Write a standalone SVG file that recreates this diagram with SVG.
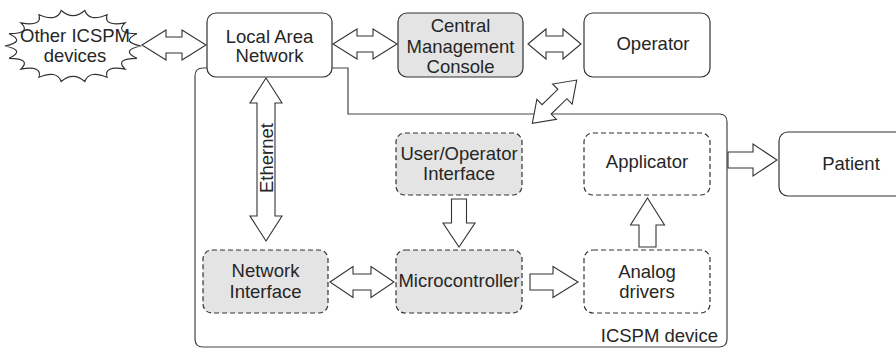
<svg xmlns="http://www.w3.org/2000/svg" width="896" height="349" viewBox="0 0 896 349">
  <style>
    .box { fill: #ffffff; stroke: #333333; stroke-width: 1.2; }
    .shaded { fill: #e4e4e4; }
    .dashed { stroke-dasharray: 5 3; }
    .arrow { fill: #ffffff; stroke: #333333; stroke-width: 1.1; stroke-linejoin: miter; }
    .outline { fill: #ffffff; stroke: #444444; stroke-width: 1.2; }
    text { font-family: "Liberation Sans", Arial, sans-serif; font-size: 18.5px; fill: #262626; text-anchor: middle; }
  </style>

  <rect width="896" height="349" fill="#ffffff"/>

  <!-- ICSPM device enclosure -->
  <g id="icspm-device">
    <path class="outline" d="M 203,68 H 348 V 114 H 719 Q 727,114 727,122 V 339 Q 727,347 719,347 H 203 Q 195,347 195,339 V 76 Q 195,68 203,68 Z"/>
    <text x="718" y="342" style="text-anchor:end">ICSPM device</text>
  </g>

  <!-- connectors -->
  <g id="connectors">
    <!-- other devices <-> LAN -->
    <polygon class="arrow" points="142,45 166,30 166,37 182,37 182,30 206,45 182,60 182,53 166,53 166,60"/>
    <!-- LAN <-> central console -->
    <polygon class="arrow" points="333,44 357,29 357,36 373,36 373,29 397,44 373,59 373,52 357,52 357,59"/>
    <!-- central console <-> operator -->
    <polygon class="arrow" points="528,44 546,29 546,36 563,36 563,29 581,44 563,59 563,52 546,52 546,59"/>
    <!-- operator <-> device -->
    <polygon class="arrow" transform="translate(554.5,101.7) rotate(-44.3)" points="-31,0 -11,-14 -11,-6.5 11,-6.5 11,-14 31,0 11,14 11,6.5 -11,6.5 -11,14"/>
    <!-- Ethernet: LAN <-> network interface -->
    <polygon class="arrow" points="266,78 282,103 275,103 275,216 282,216 266,241 250,216 257,216 257,103 250,103"/>
    <text transform="translate(272.5,158) rotate(-90)">Ethernet</text>
    <!-- network interface <-> microcontroller -->
    <polygon class="arrow" points="330,282 353,266.5 353,274 371,274 371,266.5 394,282 371,297.5 371,290 353,290 353,297.5"/>
    <!-- user interface -> microcontroller -->
    <polygon class="arrow" points="451.5,199 466.5,199 466.5,223 475,223 459,247 443,223 451.5,223"/>
    <!-- microcontroller -> analog drivers -->
    <polygon class="arrow" points="530,274 553,274 553,266.5 578,282 553,297.5 553,290 530,290"/>
    <!-- analog drivers -> applicator -->
    <polygon class="arrow" points="639,247 656,247 656,225 664.5,225 647.5,198 630.5,225 639,225"/>
    <!-- device -> patient -->
    <polygon class="arrow" points="728,152 753,152 753,144 777,160 753,176 753,168 728,168"/>
  </g>

  <g id="other-devices">
    <path class="box" d="M 141,46 Q 119.9,50.4 136.9,58.3 Q 114.2,58.6 125.1,69.1 Q 103.6,65.3 107,77.2 Q 89.3,69.7 84.8,81.5 Q 73,71.2 61.2,81.5 Q 56.7,69.7 39,77.2 Q 42.4,65.3 20.9,69.1 Q 31.8,58.6 9.1,58.3 Q 26.1,50.4 5,46 Q 26.1,41.6 9.1,33.7 Q 31.8,33.4 20.9,22.9 Q 42.4,26.7 39,14.8 Q 56.7,22.3 61.2,10.5 Q 73,20.8 84.8,10.5 Q 89.3,22.3 107,14.8 Q 103.6,26.7 125.1,22.9 Q 114.2,33.4 136.9,33.7 Q 119.9,41.6 141,46 Z"/>
    <text x="75" y="42">Other ICSPM</text>
    <text x="75" y="62">devices</text>
  </g>

  <g id="lan">
    <rect class="box" x="207" y="13" width="125" height="64" rx="9"/>
    <text x="269.5" y="43">Local Area</text>
    <text x="269.5" y="62">Network</text>
  </g>

  <g id="central-console">
    <rect class="box shaded" x="398" y="13" width="125" height="64" rx="9"/>
    <text x="460.5" y="32">Central</text>
    <text x="460.5" y="53">Management</text>
    <text x="460.5" y="73">Console</text>
  </g>

  <g id="operator">
    <rect class="box" x="584" y="13" width="126" height="64" rx="9"/>
    <text x="653" y="50">Operator</text>
  </g>

  <g id="user-interface">
    <rect class="box shaded dashed" x="396" y="133" width="126" height="62" rx="9"/>
    <text x="459" y="160">User/Operator</text>
    <text x="459" y="180">Interface</text>
  </g>

  <g id="network-interface">
    <rect class="box shaded dashed" x="203" y="250" width="125" height="63" rx="9"/>
    <text x="265.5" y="277">Network</text>
    <text x="265.5" y="298">Interface</text>
  </g>

  <g id="microcontroller">
    <rect class="box shaded dashed" x="396" y="250" width="126" height="63" rx="9"/>
    <text x="459" y="287" textLength="121" lengthAdjust="spacingAndGlyphs">Microcontroller</text>
  </g>

  <g id="applicator">
    <rect class="box dashed" x="584" y="133" width="126" height="62" rx="9"/>
    <text x="647" y="168">Applicator</text>
  </g>

  <g id="analog-drivers">
    <rect class="box dashed" x="584" y="250" width="126" height="63" rx="9"/>
    <text x="647" y="278">Analog</text>
    <text x="647" y="298">drivers</text>
  </g>

  <g id="patient">
    <rect class="box" x="779" y="132" width="130" height="64" rx="9"/>
    <text x="851" y="170">Patient</text>
  </g>
</svg>
